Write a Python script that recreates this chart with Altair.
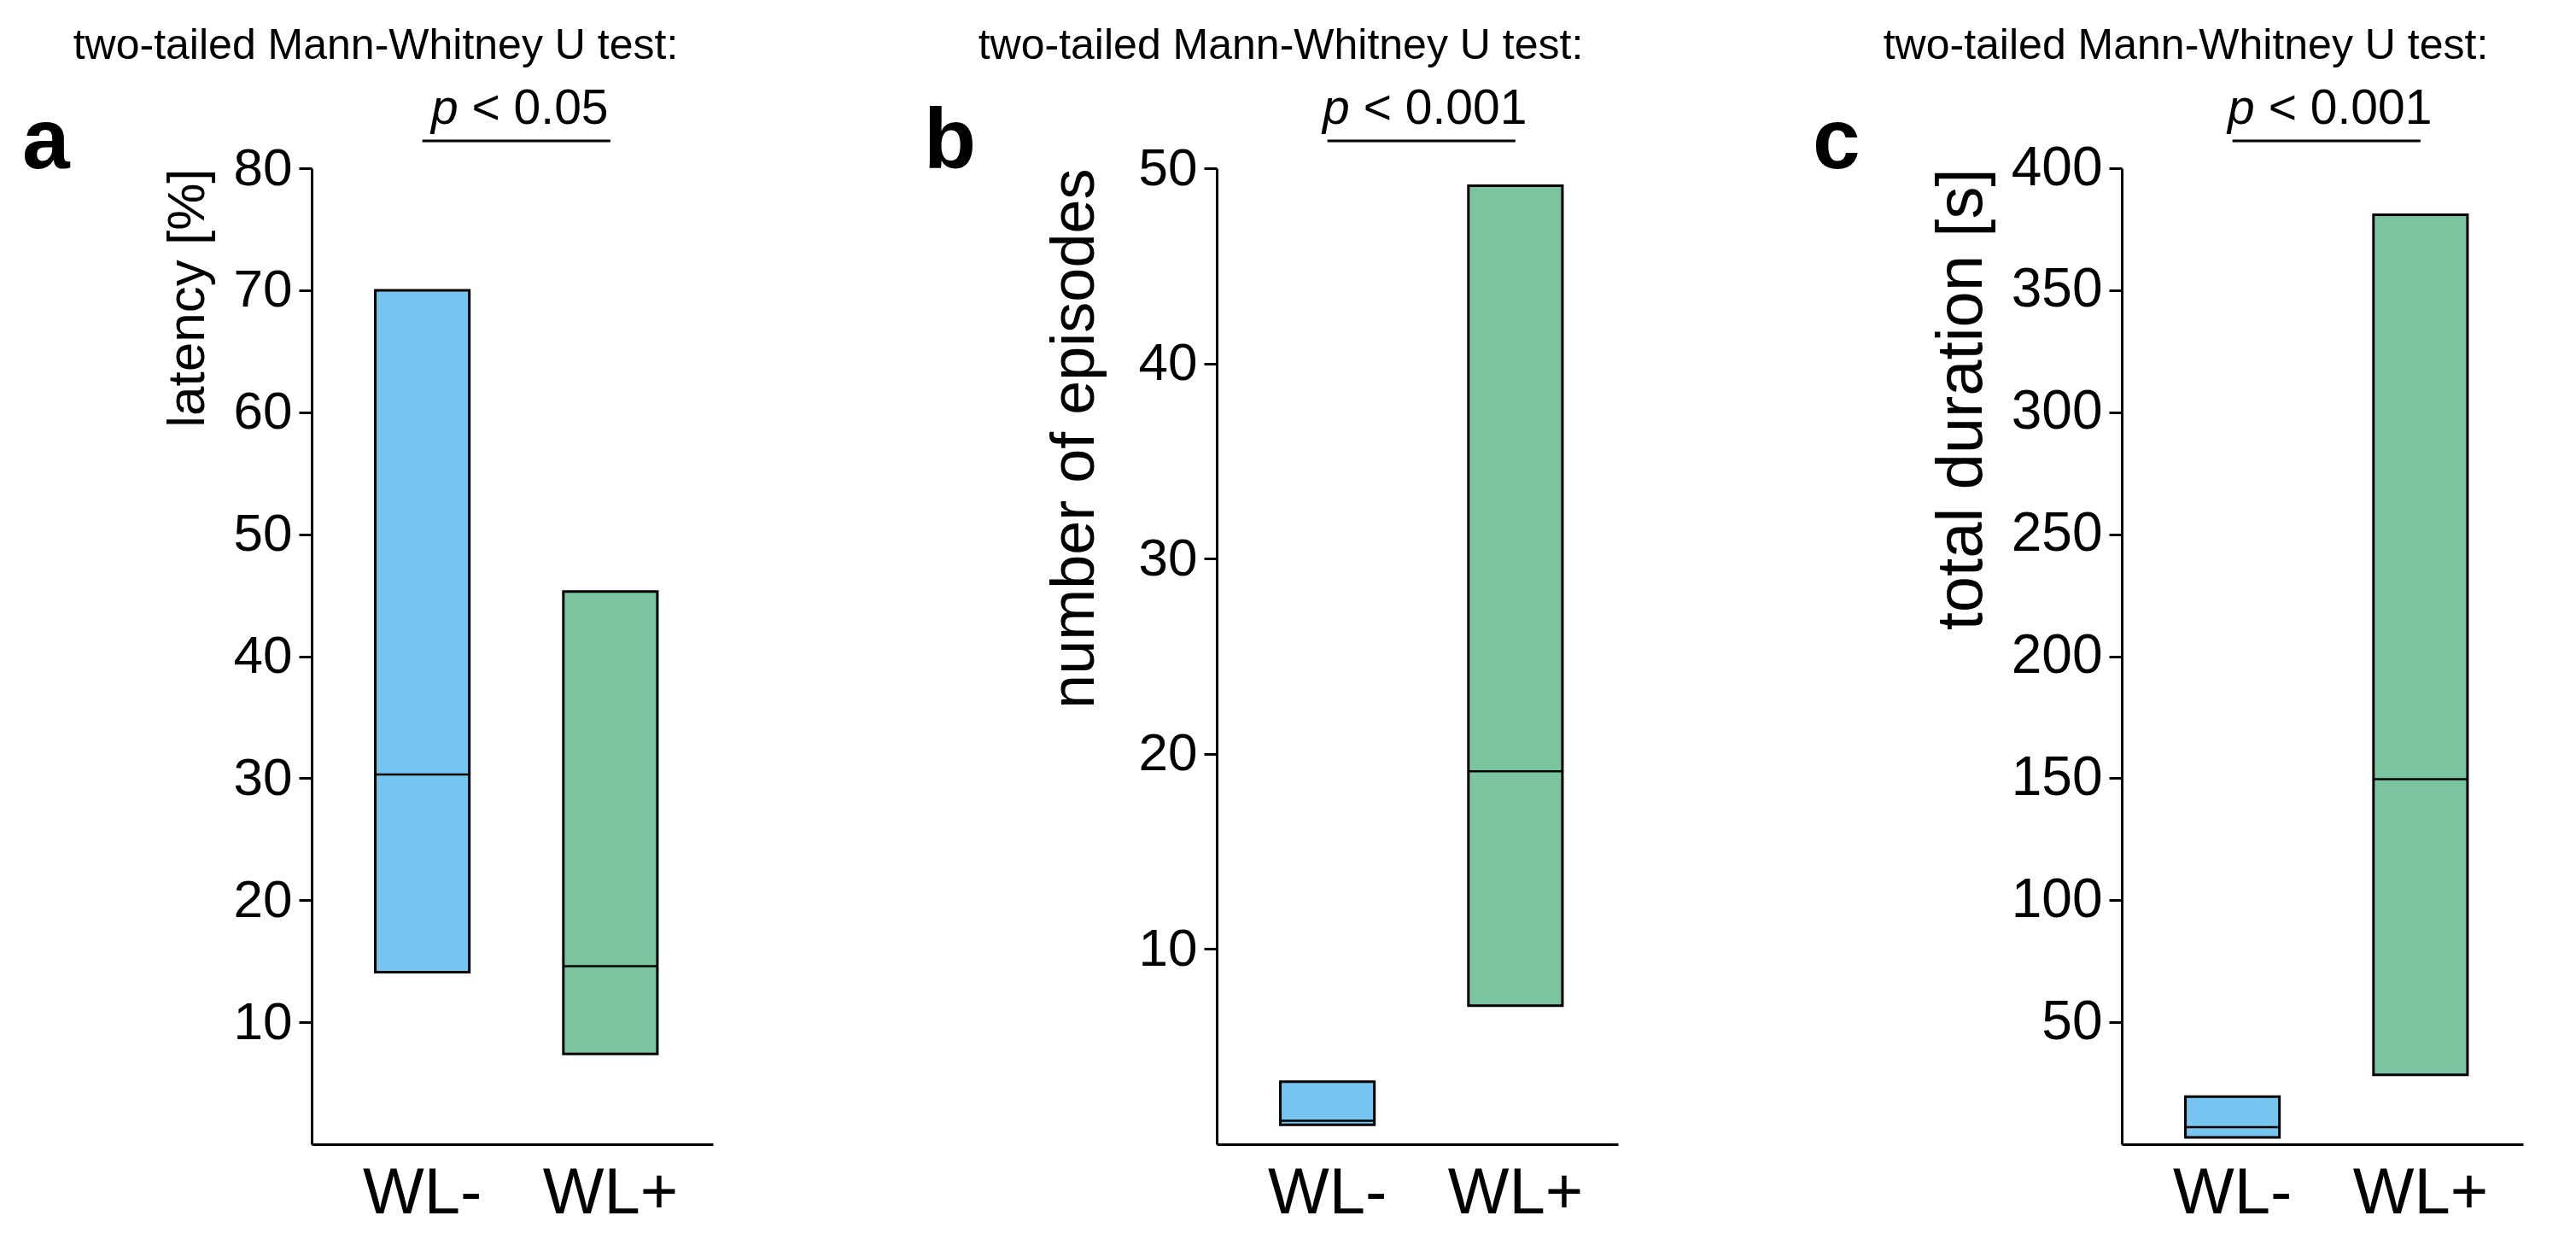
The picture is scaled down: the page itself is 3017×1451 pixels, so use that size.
import altair as alt
import pandas as pd

# ---------------- data ----------------
groups = ["WL-", "WL+"]

latency_min = [14.1, 7.4]
latency_median = [30.3, 14.6]
latency_max = [70.0, 45.3]

episodes_min = [1.0, 7.1]
episodes_median = [1.2, 19.1]
episodes_max = [3.2, 49.1]

duration_min = [2.8, 28.4]
duration_median = [7.0, 149.6]
duration_max = [19.5, 380.9]

panel_letters = ["a", "b", "c"]
y_titles = ["latency [%]", "number of episodes", "total duration [s]"]
y_domains = [[0, 80], [0, 50], [0, 400]]
y_ticks = [
    [10, 20, 30, 40, 50, 60, 70, 80],
    [10, 20, 30, 40, 50],
    [50, 100, 150, 200, 250, 300, 350, 400],
]
test_title = "two-tailed Mann-Whitney U test:"
p_values = ["< 0.05", "< 0.001", "< 0.001"]

# ---------------- styling / layout ----------------
FONT = "Liberation Sans, Arial, Helvetica, sans-serif"
BLUE = "#76C5F0"
GREEN = "#7AC59F"
W, H = 470, 1143
PAD_INNER, PAD_OUTER, ALIGN = 0.50, 0.317, 0.534
STEP = W / (2 - PAD_INNER + 2 * PAD_OUTER)
BANDW = STEP * (1 - PAD_INNER)
TITLE_FS = 50
P_FS = 57
XLAB_FS = 76
tick_fs = [62, 62, 64]
ytitle_fs = [62, 72, 76]
title_pad = [22, 38, 19]
letter_dx = [-339, -343, -362]

# rough Arial advance widths for centring "p < value"
ADV = {"<": 0.584, " ": 0.278, ".": 0.278, "0": 0.556, "1": 0.556, "5": 0.556}


def str_w(s, fs):
    return sum(ADV.get(c, 0.556) for c in s) * fs


def panel(i, mins, meds, maxs):
    df = pd.DataFrame({"group": groups, "lo": mins, "med": meds, "hi": maxs})
    ann = pd.DataFrame({"group": ["WL-"], "group_end": ["WL+"], "pv": [p_values[i]]})

    xscale = alt.Scale(domain=groups, paddingInner=PAD_INNER,
                       paddingOuter=PAD_OUTER, align=ALIGN)
    yscale = alt.Scale(domain=y_domains[i], nice=False, zero=False)

    x_axis = alt.Axis(title=None, ticks=False, labelAngle=0, labelFontSize=XLAB_FS,
                      labelPadding=20, domainWidth=3, domainColor="black",
                      labelColor="black", labelFont=FONT)
    y_axis = alt.Axis(title=y_titles[i], values=y_ticks[i], grid=False,
                      labelFontSize=tick_fs[i], labelFont=FONT, labelColor="black",
                      labelPadding=8, tickSize=15, tickWidth=3, tickColor="black",
                      domainWidth=3, domainColor="black",
                      titleFontSize=ytitle_fs[i], titleFont=FONT, titleFontWeight="normal",
                      titleColor="black", titleAnchor="end", titlePadding=title_pad[i])

    bars = alt.Chart(df).mark_bar(stroke="black", strokeWidth=3).encode(
        x=alt.X("group:N", scale=xscale, sort=groups, axis=x_axis),
        y=alt.Y("lo:Q", scale=yscale, axis=y_axis),
        y2="hi:Q",
        color=alt.Color("group:N", scale=alt.Scale(domain=groups, range=[BLUE, GREEN]),
                        legend=None),
    )
    medians = alt.Chart(df).mark_tick(color="black", thickness=2.5, size=BANDW,
                                      opacity=1).encode(
        x=alt.X("group:N"),
        y=alt.Y("med:Q"),
    )

    underline = alt.Chart(ann).mark_rule(color="black", strokeWidth=3).encode(
        x=alt.X("group:N"),
        x2="group_end:N",
        y=alt.value(-32),
    )

    pv = p_values[i]
    total = str_w("p", P_FS) + str_w(" ", P_FS) + str_w(pv, P_FS)
    p_right = STEP / 2 - total / 2 + str_w("p", P_FS) + 4
    v_left = p_right + str_w(" ", P_FS)

    p_txt = alt.Chart(ann).mark_text(text="p", font=FONT, fontSize=P_FS, fontStyle="italic",
                                     align="right", baseline="alphabetic", dx=p_right,
                                     color="black").encode(
        x=alt.X("group:N", bandPosition=0.5),
        y=alt.value(-52),
    )
    v_txt = alt.Chart(ann).mark_text(font=FONT, fontSize=P_FS, align="left",
                                     baseline="alphabetic", dx=v_left,
                                     color="black").encode(
        x=alt.X("group:N", bandPosition=0.5),
        y=alt.value(-52),
        text="pv:N",
    )
    letter = alt.Chart(ann).mark_text(text=panel_letters[i], font=FONT, fontSize=100,
                                      fontWeight="bold", align="left",
                                      baseline="alphabetic", color="black").encode(
        x=alt.value(letter_dx[i]),
        y=alt.value(0),
    )

    return alt.layer(bars, medians, underline, p_txt, v_txt, letter).properties(
        width=W,
        height=H,
        title=alt.TitleParams(test_title, font=FONT, fontSize=TITLE_FS,
                              fontWeight="normal", color="black", anchor="middle",
                              dx=-160, offset=20),
    )


chart = alt.hconcat(
    panel(0, latency_min, latency_median, latency_max),
    panel(1, episodes_min, episodes_median, episodes_max),
    panel(2, duration_min, duration_median, duration_max),
    spacing=590,
    bounds="flush",
).properties(
    padding={"left": 18, "top": 21, "right": 5, "bottom": 5},
    background="white",
).configure(font=FONT).configure_view(strokeWidth=0, stroke="transparent")

chart.save("out.html", embed_options={"renderer": "svg", "actions": False})
